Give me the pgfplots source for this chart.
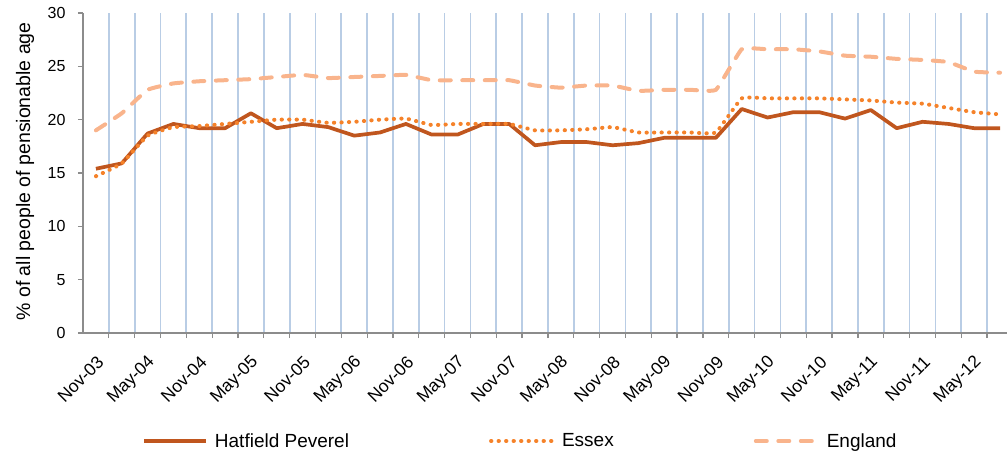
\documentclass[border=0pt]{standalone}
\usepackage{fontspec}
\setmainfont{Liberation Sans}
\usepackage{pgfplots}
\usepackage{pgfplotstable}
\pgfplotsset{compat=1.18}
\definecolor{hpc}{HTML}{C0561E}
\definecolor{exc}{HTML}{F5822A}
\definecolor{enc}{HTML}{F9B48C}
\definecolor{gridc}{HTML}{B9CDE5}
\definecolor{axc}{HTML}{8C8C8C}

\pgfplotstableread{
i hp ex en
0 15.4 14.7 19.0
1 15.9 15.9 20.6
2 18.7 18.5 22.8
3 19.6 19.3 23.4
4 19.2 19.4 23.6
5 19.2 19.6 23.7
6 20.6 19.8 23.8
7 19.2 20.0 24.0
8 19.6 20.0 24.2
9 19.3 19.7 23.9
10 18.5 19.8 24.0
11 18.8 20.0 24.1
12 19.6 20.1 24.2
13 18.6 19.5 23.7
14 18.6 19.6 23.7
15 19.6 19.6 23.7
16 19.6 19.6 23.7
17 17.6 19.0 23.2
18 17.9 19.0 23.0
19 17.9 19.1 23.2
20 17.6 19.3 23.2
21 17.8 18.8 22.7
22 18.3 18.8 22.8
23 18.3 18.8 22.8
24 18.3 18.8 22.8
25 21.0 22.0 26.6
26 20.2 22.0 26.6
27 20.7 22.0 26.6
28 20.7 22.0 26.4
29 20.1 21.9 26.0
30 20.9 21.8 25.9
31 19.2 21.6 25.7
32 19.8 21.5 25.6
33 19.6 21.1 25.4
34 19.2 20.7 24.5
35 19.2 20.5 24.4
}\data

\begin{document}
\begin{tikzpicture}
\begin{axis}[
  at={(0,0)}, anchor=south west,
  scale only axis, width=924pt, height=320pt,
  xmin=-0.5, xmax=35.27, ymin=0, ymax=30,
  axis lines*=left,
  axis line style={draw=axc, line width=1.3pt},
  /pgf/number format/assume math mode=true,
  ytick={0,5,...,30},
  xtick={0,2,...,34},
  xticklabels={Nov-03,May-04,Nov-04,May-05,Nov-05,May-06,Nov-06,May-07,Nov-07,May-08,Nov-08,May-09,Nov-09,May-10,Nov-10,May-11,Nov-11,May-12},
  minor xtick={0.5,1.5,...,34.5},
  xminorgrids,
  minor grid style={draw=gridc, line width=1.7pt},
  tick align=outside,
  major tick length=5pt, minor tick length=5pt,
  major x tick style={draw=none},
  minor x tick style={draw=axc, line width=1.3pt},
  major y tick style={draw=axc, line width=1.3pt},
  xticklabel style={anchor=east, font=\fontsize{17.5}{20}\selectfont, xshift=7pt, yshift=-19pt, rotate=45},
  yticklabel style={font=\fontsize{16}{19}\selectfont, xshift=-9pt},
  ylabel={\% of all people of pensionable age},
  ylabel style={font=\fontsize{19.5}{22}\selectfont, at={(axis description cs:-0.0628,0.505)}, anchor=center},
  legend columns=3,
  legend image code/.code={\draw[#1] (0pt,0pt) -- (62pt,0pt);},
  legend style={at={(axis description cs:0.0639,-0.3375)}, anchor=west, draw=none, fill=none,
    inner sep=0pt, font=\fontsize{19}{22}\selectfont,
    /tikz/every odd column/.append style={column sep=5pt},
    /tikz/every even column/.append style={column sep=138pt}},
]
\addplot[hpc, line width=3.7pt, line join=round] table[x=i, y=hp] {\data};
\addlegendentry{Hatfield Peverel}
\addplot[exc, line width=4pt, line cap=round, dash pattern=on 0.3pt off 7.2pt, smooth, tension=0.2] table[x=i, y=ex] {\data};
\addlegendentry{Essex}
\addplot[enc, line width=4pt, line cap=round, dash pattern=on 11pt off 11.5pt, smooth, tension=0.2] table[x=i, y=en] {\data};
\addlegendentry{England}
\end{axis}
\pgfresetboundingbox
\path[use as bounding box] (-83pt,-122pt) rectangle (924pt,333pt);
\end{tikzpicture}
\end{document}
